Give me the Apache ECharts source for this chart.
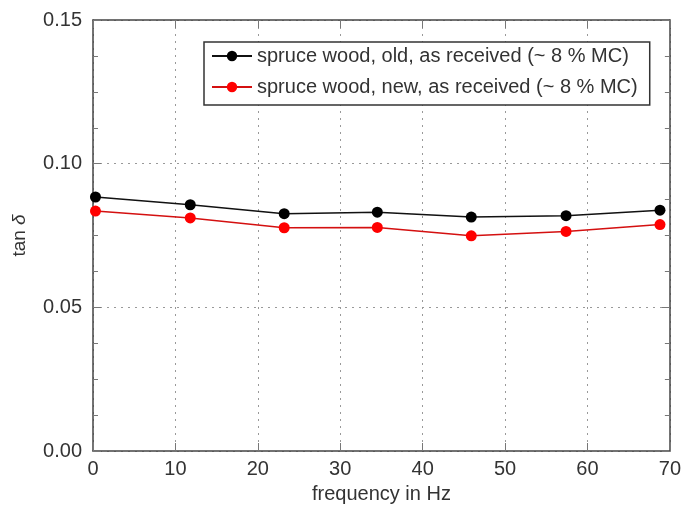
<!DOCTYPE html>
<html>
<head>
<meta charset="utf-8">
<script src="https://cdn.jsdelivr.net/npm/echarts@6/dist/echarts.min.js"></script>
<style>
  html, body { margin: 0; padding: 0; background: #fff; }
  #chart { width: 684px; height: 511px; }
</style>
</head>
<body>
<div id="chart"></div>
<script>
// frequency of each measurement (Hz)
const freq = [0.3, 11.8, 23.2, 34.5, 45.9, 57.4, 68.8];
// tan delta values
const oldWood = [0.0884, 0.0857, 0.0826, 0.0831, 0.0814, 0.0819, 0.0838];
const newWood = [0.0835, 0.0811, 0.0777, 0.0778, 0.0749, 0.0764, 0.0788];
const seriesNames = [
  'spruce wood, old, as received (~ 8 % MC)',
  'spruce wood, new, as received (~ 8 % MC)'
];

const font = 'Liberation Sans, Arial, sans-serif';
const textColor = '#333';
const frame = '#444';

const chart = echarts.init(document.getElementById('chart'));

const gridLine = { show: true, lineStyle: { color: '#999', type: [2, 5], width: 1 } };
const frameLine = { show: true, onZero: false, lineStyle: { color: frame, width: 1.5 } };
const tick = { show: true, inside: true, length: 8, lineStyle: { color: '#777' } };
const minor = { show: true, splitNumber: 4, length: 5, lineStyle: { color: '#777' } };

const option = {
  animation: false,
  grid: { left: 93, right: 13, top: 20, bottom: 60 },
  legend: {
    orient: 'vertical',
    left: 204,
    top: 42,
    padding: [4, 12, 8, 7],
    itemGap: 11,
    itemWidth: 40,
    itemHeight: 13,
    itemTextGap: 16,
    borderColor: '#333',
    borderWidth: 1.5,
    borderRadius: 0,
    backgroundColor: '#fff',
    textStyle: { fontFamily: font, fontSize: 20, color: textColor },
    data: seriesNames
  },
  xAxis: [
    {
      type: 'value',
      min: 0, max: 70, interval: 10,
      name: 'frequency in Hz',
      nameLocation: 'middle',
      nameGap: 33,
      nameTextStyle: { fontFamily: font, fontSize: 20, color: textColor },
      axisLine: frameLine,
      axisTick: tick,
      axisLabel: { fontFamily: font, fontSize: 20, color: textColor, margin: 8 },
      splitLine: gridLine
    },
    {
      type: 'value', position: 'top',
      min: 0, max: 70, interval: 10,
      axisLine: frameLine,
      axisTick: tick,
      axisLabel: { show: false },
      splitLine: { show: false }
    }
  ],
  yAxis: [
    {
      type: 'value',
      min: 0, max: 0.15, interval: 0.05,
      name: 'tan {i|δ}',
      nameLocation: 'middle',
      nameGap: 64,
      nameTextStyle: {
        fontFamily: font, fontSize: 19, color: textColor,
        rich: { i: { fontFamily: font, fontSize: 19, fontStyle: 'italic', color: textColor } }
      },
      axisLine: frameLine,
      axisTick: tick,
      minorTick: minor,
      axisLabel: {
        fontFamily: font, fontSize: 20, color: textColor, margin: 11,
        formatter: v => v.toFixed(2)
      },
      splitLine: gridLine
    },
    {
      type: 'value', position: 'right',
      min: 0, max: 0.15, interval: 0.05,
      axisLine: frameLine,
      axisTick: tick,
      minorTick: minor,
      axisLabel: { show: false },
      splitLine: { show: false }
    }
  ],
  series: [
    {
      name: seriesNames[0],
      type: 'line',
      data: freq.map((f, i) => [f, oldWood[i]]),
      symbol: 'circle',
      symbolSize: 11,
      lineStyle: { color: '#111', width: 1.5 },
      itemStyle: { color: '#000' }
    },
    {
      name: seriesNames[1],
      type: 'line',
      data: freq.map((f, i) => [f, newWood[i]]),
      symbol: 'circle',
      symbolSize: 11,
      lineStyle: { color: '#d41010', width: 1.5 },
      itemStyle: { color: '#f00' }
    }
  ]
};

chart.setOption(option);
</script>
</body>
</html>
